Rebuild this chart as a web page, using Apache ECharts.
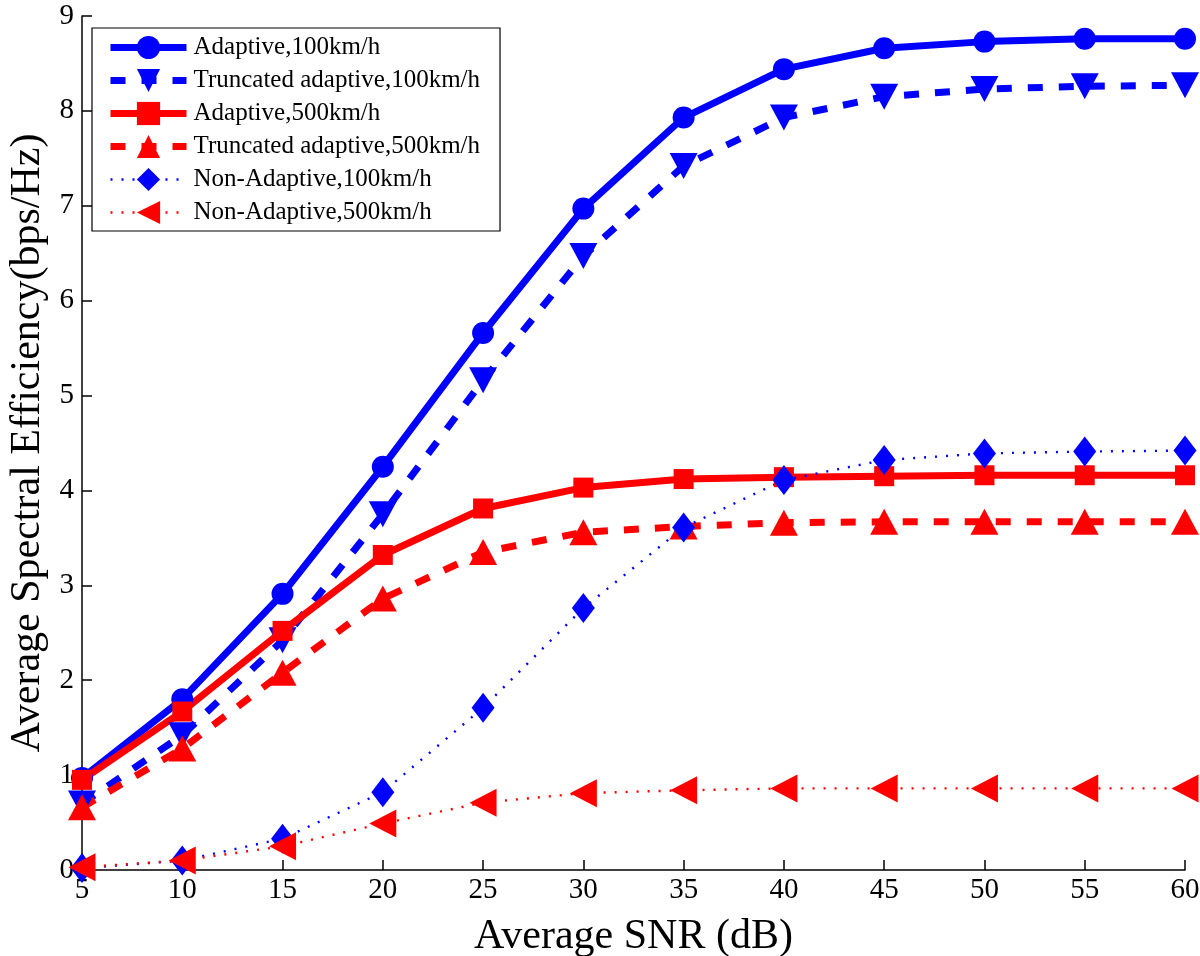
<!DOCTYPE html>
<html>
<head>
<meta charset="utf-8">
<script src="https://cdn.jsdelivr.net/npm/echarts@6/dist/echarts.min.js"></script>
<style>html,body{margin:0;padding:0;background:#fff}#c{width:1200px;height:956px}</style>
</head>
<body>
<div id="c"></div>
<script>
const snr = [5, 10, 15, 20, 25, 30, 35, 40, 45, 50, 55, 60];
const adaptive100 = [0.97, 1.80, 2.91, 4.25, 5.66, 6.97, 7.93, 8.44, 8.66, 8.73, 8.76, 8.76];
const truncated100 = [0.70, 1.42, 2.42, 3.75, 5.16, 6.47, 7.42, 7.93, 8.15, 8.23, 8.26, 8.27];
const adaptive500 = [0.95, 1.67, 2.52, 3.32, 3.81, 4.03, 4.12, 4.14, 4.15, 4.16, 4.16, 4.16];
const truncated500 = [0.66, 1.28, 2.08, 2.86, 3.35, 3.56, 3.62, 3.66, 3.67, 3.67, 3.67, 3.67];
const nonAdaptive100 = [0.02, 0.10, 0.33, 0.82, 1.71, 2.76, 3.61, 4.11, 4.32, 4.39, 4.41, 4.42];
const nonAdaptive500 = [0.03, 0.10, 0.25, 0.49, 0.71, 0.81, 0.84, 0.86, 0.86, 0.86, 0.86, 0.86];
const names = ['Adaptive,100km/h', 'Truncated adaptive,100km/h', 'Adaptive,500km/h',
  'Truncated adaptive,500km/h', 'Non-Adaptive,100km/h', 'Non-Adaptive,500km/h'];

const BLUE = '#0000ff', RED = '#ff0000';
const FONT = '"Liberation Serif", "DejaVu Serif", serif';
const pairs = arr => snr.map((x, i) => [x, arr[i]]);

const styles = [
  { color: BLUE, symbol: 'circle', size: 22, rotate: 0, width: 7, type: 'solid' },
  { color: BLUE, symbol: 'triangle', size: [28, 26], rotate: 180, width: 7, type: [15, 16] },
  { color: RED, symbol: 'rect', size: 20, rotate: 0, width: 7, type: 'solid' },
  { color: RED, symbol: 'triangle', size: [28, 26], rotate: 0, width: 7, type: [15, 16] },
  { color: BLUE, symbol: 'diamond', size: [23, 30], rotate: 0, width: 2.4, type: [2, 9] },
  { color: RED, symbol: 'triangle', size: [28, 27], rotate: 90, width: 2.4, type: [2, 9] }
];
const values = [adaptive100, truncated100, adaptive500, truncated500, nonAdaptive100, nonAdaptive500];

const series = values.map((arr, i) => {
  const s = styles[i];
  return {
    name: names[i], type: 'line', data: pairs(arr), clip: false,
    symbol: s.symbol, symbolSize: s.size, symbolRotate: s.rotate, showAllSymbol: true,
    itemStyle: { color: s.color, borderWidth: 0 },
    lineStyle: { color: s.color, width: s.width, type: s.type },
    emphasis: { disabled: true }, animation: false
  };
});

const chart = echarts.init(document.getElementById('c'), null, { renderer: 'canvas' });
chart.setOption({
  animation: false,
  backgroundColor: '#fff',
  grid: { left: 82, right: 15, top: 16, bottom: 86, containLabel: false, outerBoundsMode: 'none' },
  legend: {
    left: 92, top: 28, orient: 'vertical',
    backgroundColor: '#fff', borderColor: '#000', borderWidth: 1.2,
    padding: [7, 20, 6, 15],
    itemWidth: 76, itemHeight: 29, itemGap: 8,
    textStyle: { fontFamily: FONT, fontSize: 25, color: '#000', lineHeight: 24, padding: [0, 0, 0, 2] },
    data: names.map((n, i) => ({
      name: n,
      lineStyle: { width: styles[i].width, type: styles[i].type, color: styles[i].color }
    }))
  },
  xAxis: {
    type: 'value', min: 5, max: 60, interval: 5,
    name: 'Average SNR (dB)', nameLocation: 'middle', nameGap: 46,
    nameTextStyle: { fontFamily: FONT, fontSize: 42, color: '#000' },
    axisLine: { show: true, onZero: false, lineStyle: { color: '#000', width: 1.5 } },
    axisTick: { show: true, inside: true, length: 10, lineStyle: { color: '#000', width: 1.5 } },
    axisLabel: { fontFamily: FONT, fontSize: 29, color: '#000', margin: 6 },
    splitLine: { show: false }
  },
  yAxis: {
    type: 'value', min: 0, max: 9, interval: 1,
    name: 'Average Spectral Efficiency(bps/Hz)', nameLocation: 'middle', nameGap: 33,
    nameTextStyle: { fontFamily: FONT, fontSize: 42, color: '#000' },
    axisLine: { show: true, onZero: false, lineStyle: { color: '#000', width: 1.5 } },
    axisTick: { show: true, inside: true, length: 10, lineStyle: { color: '#000', width: 1.5 } },
    axisLabel: { fontFamily: FONT, fontSize: 29, color: '#000', margin: 8 },
    splitLine: { show: false }
  },
  series: series
});
</script>
</body>
</html>
